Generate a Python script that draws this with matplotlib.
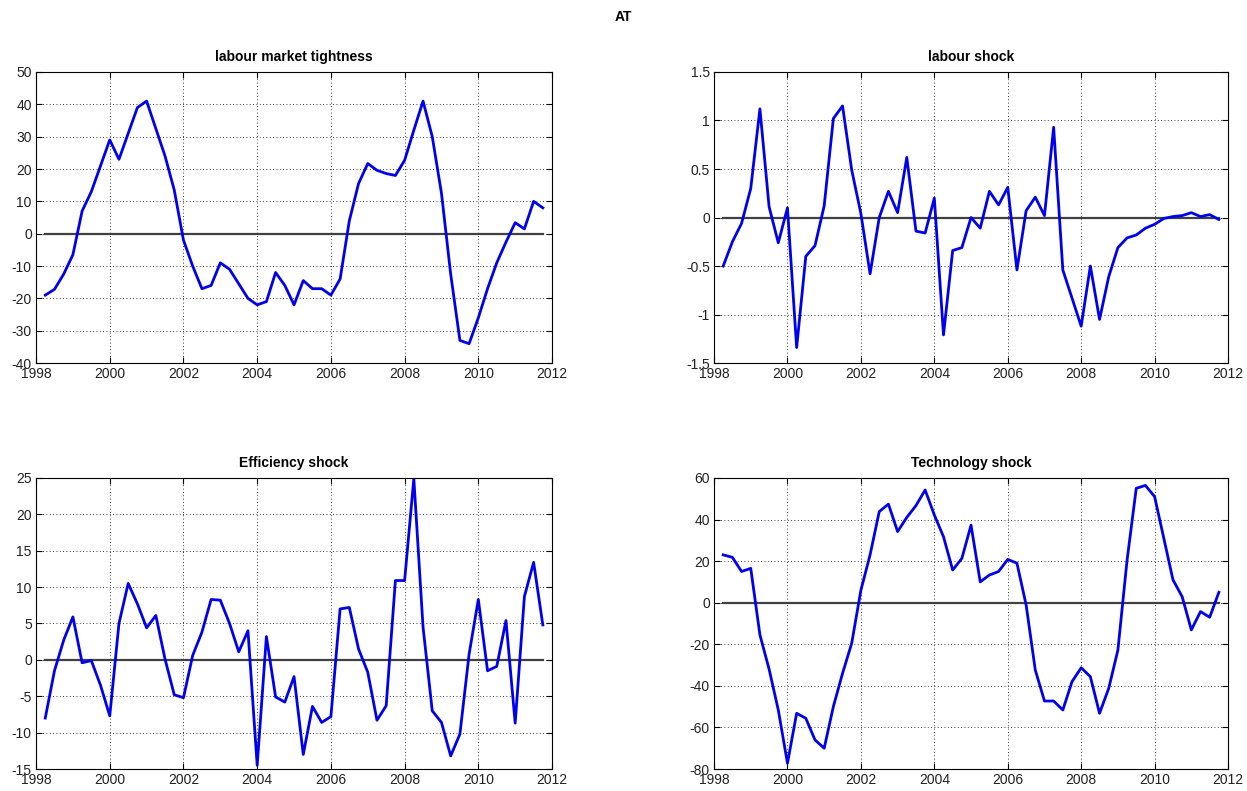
import numpy as np
import matplotlib
matplotlib.use('Agg')
from matplotlib import pyplot as plt
from matplotlib.ticker import FormatStrFormatter

plt.rcParams['font.family'] = ['Liberation Sans', 'DejaVu Sans']
plt.rcParams['axes.unicode_minus'] = False

# quarterly dates 1998Q2 .. 2011Q4
dates = np.arange(1998.25, 2011.76, 0.25)

tightness = [-19, -17.2, -12.5, -6.5, 7, 13, 21, 29, 23, 31, 39, 41, 32.5, 24, 13.5, -2,
             -10, -17, -16, -9, -11, -15.5, -20, -22, -21, -12, -16, -22, -14.5, -17, -17, -19,
             -14, 4, 15.5, 21.7, 19.6, 18.6, 18, 22.7, 32, 41, 30, 12.5, -12.5, -33,
             -34, -26, -17, -9, -2.6, 3.4, 1.5, 10, 8]
labour = [-0.5, -0.25, -0.06, 0.3, 1.12, 0.11, -0.26, 0.1, -1.34, -0.4, -0.29, 0.12, 1.02, 1.15, 0.49, 0.04,
          -0.58, 0.0, 0.27, 0.05, 0.62, -0.14, -0.16, 0.2, -1.21, -0.34, -0.31, 0.0, -0.11, 0.27, 0.13, 0.31,
          -0.54, 0.07, 0.21, 0.02, 0.93, -0.54, -0.83, -1.12, -0.5, -1.05, -0.61, -0.31, -0.21, -0.18,
          -0.11, -0.07, -0.01, 0.01, 0.02, 0.05, 0.01, 0.03, -0.02]
efficiency = [-8, -1.5, 2.7, 5.9, -0.4, -0.1, -3.5, -7.7, 5, 10.5, 7.7, 4.4, 6.1, 0.1, -4.8, -5.2,
              0.6, 3.8, 8.3, 8.2, 5, 1.1, 4.0, -14.5, 3.2, -5.1, -5.8, -2.3, -13, -6.4, -8.6, -7.8,
              7.0, 7.2, 1.5, -1.7, -8.3, -6.3, 10.9, 10.9, 24.9, 4.5, -7, -8.6, -13.2, -10.2,
              0.8, 8.3, -1.5, -0.9, 5.4, -8.7, 8.7, 13.4, 4.8]
technology = [23, 21.8, 15, 16.5, -15.5, -32, -51.6, -77.2, -53.2, -55.6, -66, -70, -50, -34, -19.5, 6,
              23, 43.8, 47.4, 34.2, 41, 46.7, 54.2, 42.2, 31.7, 15.7, 21.3, 37.3, 10, 13.3, 15, 20.8,
              19, -1, -32.4, -47.3, -47.3, -51.6, -38, -31.3, -35.6, -53.2, -41.2, -22.8, 20.5, 55,
              56.4, 51, 31, 11, 2.9, -13.1, -4.3, -7, 5]

titles = ['labour market tightness', 'labour shock', 'Efficiency shock', 'Technology shock']
series = [tightness, labour, efficiency, technology]
ylims = [(-40, 50, 10), (-1.5, 1.5, 0.5), (-15, 25, 5), (-80, 60, 20)]
# axes boxes in figure fractions (left, bottom, width, height)
boxes = [(0.0289, 0.541, 0.4138, 0.368), (0.5726, 0.541, 0.4122, 0.368),
         (0.0289, 0.0278, 0.4138, 0.368), (0.5726, 0.0278, 0.4122, 0.368)]

fig = plt.figure(figsize=(12.47, 7.91), dpi=100)
fig.suptitle('AT', y=0.9785, fontsize=10, fontweight='bold', va='center')

for i in range(4):
    ax = fig.add_axes(boxes[i])
    ax.plot(dates, np.zeros(len(dates)), color='#404040', lw=1.6)
    ax.plot(dates, series[i], color='#0000f0', lw=2)
    lo, hi, st = ylims[i]
    ax.set_ylim(lo, hi)
    ax.set_yticks(np.arange(lo, hi + st / 2, st))
    ax.yaxis.set_major_formatter(FormatStrFormatter('%g'))
    ax.set_xlim(1998, 2012)
    ax.set_xticks(np.arange(1998, 2013, 2))
    ax.grid(True, color='black', linestyle=(0, (1, 3)), lw=0.6)
    ax.tick_params(direction='in', top=True, right=True, labelsize=10, pad=3, length=4,
                   labelcolor='#222222')
    for s in ax.spines.values():
        s.set_linewidth(0.8)
    ax.set_title(titles[i], fontsize=10, fontweight='bold', pad=8)

plt.savefig('out.png', dpi=100)
